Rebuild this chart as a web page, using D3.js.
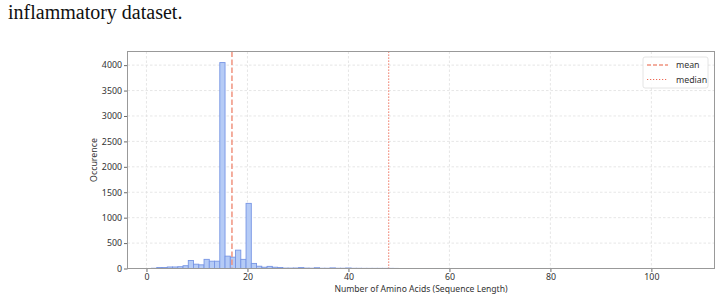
<!DOCTYPE html>
<html>
<head>
<meta charset="utf-8">
<script src="https://cdn.jsdelivr.net/npm/d3@7"></script>
<style>
  html, body { margin: 0; padding: 0; background: #fff; }
  svg { display: block; }
</style>
</head>
<body>
<svg id="chart" width="721" height="300"></svg>
<script>
// ---- data ----
const binStart = 1.0;
const binWidth = 1.04;
const binCounts = [
  5, 20, 20, 30, 30, 35, 55, 158, 85, 72,
  180, 144, 144, 4050, 243, 223, 361, 180, 1281, 100,
  45, 25, 42, 25, 20, 8, 8, 10, 18, 8,
  6, 15, 5, 5, 12, 5, 5, 10, 4, 4,
  3, 3, 3, 3, 3, 3, 2, 1, 1, 1,
  1, 0, 1, 0, 1, 0, 0, 1, 0, 0,
  1, 0, 0, 0, 1, 0, 0, 0, 0, 1,
  0, 0, 0, 0, 1, 0, 0, 0, 0, 0,
  1, 0, 0, 0, 0, 0, 0, 0, 0, 0,
  0, 0, 0, 0, 0, 0, 0, 0, 0, 1
];
const meanValue = 16.93;
const medianValue = 47.97;
const xTicks = [0, 20, 40, 60, 80, 100];
const yTicks = [0, 500, 1000, 1500, 2000, 2500, 3000, 3500, 4000];
const xDomain = [-3.76, 112.5];
const yDomain = [0, 4268];
const legendLabels = ["mean", "median"];

// ---- layout ----
const svg = d3.select("#chart");
const m = { left: 127.5, right: 714.5, top: 51.5, bottom: 268.5 };
const font = "'Noto Sans', 'DejaVu Sans', sans-serif";

svg.append("text")
  .attr("x", 8).attr("y", 19)
  .attr("font-family", "'Liberation Serif', 'Times New Roman', serif")
  .attr("font-size", 20).attr("fill", "#111")
  .text("inflammatory dataset.");

const x = d3.scaleLinear().domain(xDomain).range([m.left, m.right]);
const y = d3.scaleLinear().domain(yDomain).range([m.bottom, m.top]);

// grid
const grid = svg.append("g");
grid.selectAll(".gx").data(xTicks).enter().append("line")
  .attr("x1", d => x(d)).attr("x2", d => x(d))
  .attr("y1", m.top).attr("y2", m.bottom)
  .attr("stroke", "#e0e0e0").attr("stroke-width", 0.8).attr("stroke-dasharray", "2.5,2");
grid.selectAll(".gy").data(yTicks).enter().append("line")
  .attr("x1", m.left).attr("x2", m.right)
  .attr("y1", d => y(d)).attr("y2", d => y(d))
  .attr("stroke", "#e0e0e0").attr("stroke-width", 0.8).attr("stroke-dasharray", "2.5,2");

// bars
const bins = binCounts.map((c, i) => ({ x0: binStart + i * binWidth, x1: binStart + (i + 1) * binWidth, c }));
svg.append("g").selectAll("rect").data(bins.filter(b => b.c > 0)).enter().append("rect")
  .attr("x", d => x(d.x0))
  .attr("width", d => x(d.x1) - x(d.x0))
  .attr("y", d => y(d.c))
  .attr("height", d => y(0) - y(d.c))
  .attr("fill", "#b5cbf6")
  .attr("stroke", "#7795e4")
  .attr("stroke-width", 0.9);

// mean / median lines
svg.append("line")
  .attr("x1", x(meanValue)).attr("x2", x(meanValue))
  .attr("y1", m.top).attr("y2", m.bottom)
  .attr("stroke", "#f0937f").attr("stroke-width", 1.5).attr("stroke-dasharray", "5.5,2.5");
svg.append("line")
  .attr("x1", x(medianValue)).attr("x2", x(medianValue))
  .attr("y1", m.top).attr("y2", m.bottom)
  .attr("stroke", "#ee6a55").attr("stroke-width", 1.1).attr("stroke-dasharray", "1.2,1.8");

// axes
const fmt = d3.format("d");
const xAxis = d3.axisBottom(x).tickValues(xTicks).tickFormat(fmt).tickSize(3.5).tickPadding(1.5);
const gx = svg.append("g").attr("transform", `translate(0,${m.bottom})`).call(xAxis);
const yAxis = d3.axisLeft(y).tickValues(yTicks).tickFormat(fmt).tickSize(3.5).tickPadding(2);
const gy = svg.append("g").attr("transform", `translate(${m.left},0)`).call(yAxis);
[gx, gy].forEach(g => {
  g.select(".domain").remove();
  g.selectAll(".tick line").attr("stroke", "#444").attr("stroke-width", 0.8);
  g.selectAll(".tick text").attr("font-family", font).attr("font-size", 8.8).attr("fill", "#333");
});

// frame
svg.append("rect")
  .attr("x", m.left).attr("y", m.top)
  .attr("width", m.right - m.left).attr("height", m.bottom - m.top)
  .attr("fill", "none").attr("stroke", "#999").attr("stroke-width", 1);

// labels
svg.append("text")
  .attr("x", (m.left + m.right) / 2).attr("y", 292)
  .attr("text-anchor", "middle")
  .attr("font-family", font).attr("font-size", 8.6).attr("fill", "#333")
  .text("Number of Amino Acids (Sequence Length)");
svg.append("text")
  .attr("transform", `translate(97,${(m.top + m.bottom) / 2}) rotate(-90)`)
  .attr("text-anchor", "middle")
  .attr("font-family", font).attr("font-size", 8.8).attr("fill", "#333")
  .text("Occurence");

// legend
const lg = svg.append("g").attr("transform", "translate(643,57)");
lg.append("rect").attr("x", 0).attr("y", 0).attr("width", 65).attr("height", 31).attr("rx", 2)
  .attr("fill", "#fff").attr("fill-opacity", 0.85).attr("stroke", "#ddd").attr("stroke-width", 0.8);
const styles = [
  { stroke: "#f0937f", w: 1.5, dash: "4,2" },
  { stroke: "#ee6a55", w: 1.1, dash: "1.2,1.8" }
];
legendLabels.forEach((lab, i) => {
  const yy = 8 + i * 14.5;
  lg.append("line").attr("x1", 4).attr("x2", 25).attr("y1", yy).attr("y2", yy)
    .attr("stroke", styles[i].stroke).attr("stroke-width", styles[i].w).attr("stroke-dasharray", styles[i].dash);
  lg.append("text").attr("x", 33).attr("y", yy + 3)
    .attr("font-family", font).attr("font-size", 8.8).attr("fill", "#333").text(lab);
});
</script>
</body>
</html>
